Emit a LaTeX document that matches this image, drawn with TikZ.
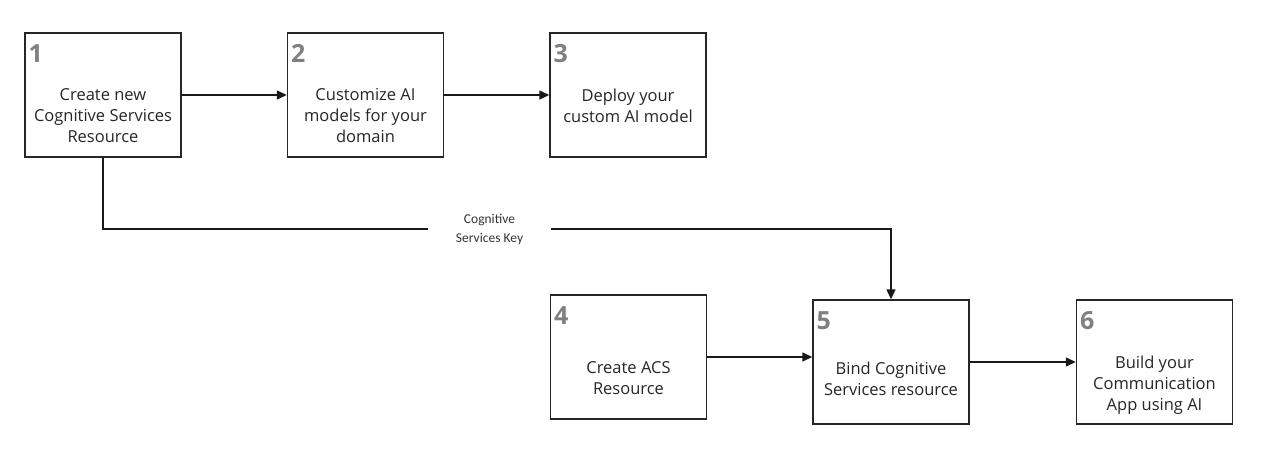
\documentclass[tikz,border=0pt]{standalone}
\usepackage{fontspec}
\setmainfont{Open Sans}
\newfontfamily\keyfont{Carlito}
\usetikzlibrary{arrows.meta}
\begin{document}
\begin{tikzpicture}[x=1pt, y=-1pt,
    stepbox/.style={draw=black!85, line width=1.4pt, minimum width=156pt,
      minimum height=124pt, inner sep=0pt},
    steptext/.style={align=center, text=black!85, inner sep=0pt,
      font=\fontsize{16.5}{21}\selectfont},
    stepnum/.style={anchor=base west, inner sep=0pt, text=black!50,
      font=\fontsize{25}{25}\selectfont\bfseries},
    link/.style={line width=1.4pt, draw=black!90},
    tip/.style={-{Triangle[length=10pt, width=9pt]}}]
  \useasboundingbox (0, 0) rectangle (1265, 455);
  % top row
  \node [stepbox] (b1) at (103, 95) {};
  \node [stepbox] (b2) at (365.5, 95) {};
  \node [stepbox] (b3) at (628, 95) {};
  % bottom row
  \node [stepbox] (b4) at (628.5, 357) {};
  \node [stepbox] (b5) at (891, 362) {};
  \node [stepbox] (b6) at (1154.5, 362) {};
  % numbers
  \foreach \b/\n in {b1/1, b2/2, b3/3, b4/4, b5/5, b6/6}
    \node [stepnum] (n\n) at ([shift={(4, 30)}]\b.north west) {\n};
  % texts
  \node [steptext] (t1) at ([yshift=-21]b1.center) {Create new\\Cognitive Services\\Resource};
  \node [steptext] (t2) at ([yshift=-21]b2.center) {Customize AI\\models for your\\domain};
  \node [steptext] (t3) at ([yshift=-11]b3.center) {Deploy your\\custom AI model};
  \node [steptext] (t4) at ([yshift=-21]b4.center) {Create ACS\\Resource};
  \node [steptext] (t5) at ([yshift=-17]b5.center) {Bind Cognitive\\Services resource};
  \node [steptext] (t6) at ([yshift=-23]b6.center) {Build your\\Communication\\App using AI};
  % key label
  \node [align=center, inner sep=0pt, minimum width=123pt, text=black!80,
    font=\keyfont\fontsize{13.5}{19}\selectfont] (key) at (489.5, 229) {Cognitive\\Services Key};
  % connectors
  \draw [link, tip] (b1) -- (b2);
  \draw [link, tip] (b2) -- (b3);
  \draw [link, tip] (b4.east) -- (b4.east -| b5.west);
  \draw [link, tip] (b5) -- (b6);
  \draw [link] (b1.south) |- (key.west);
  \draw [link, tip] (key.east) -| (b5.north);
\end{tikzpicture}
\end{document}
